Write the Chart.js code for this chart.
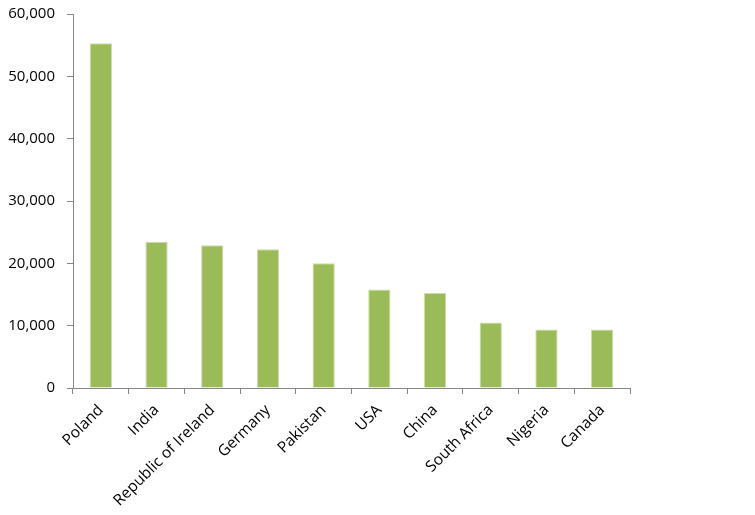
<!DOCTYPE html>
<html>
<head>
<meta charset="utf-8">
<script src="https://cdn.jsdelivr.net/npm/chart.js@4"></script>
<style>
  body { margin: 0; background: #fff; }
  #wrap { width: 755px; height: 515px; }
</style>
</head>
<body>
<div id="wrap"><canvas id="chart" width="755" height="515"></canvas></div>
<script>
// countries and values
const countries = ["Poland", "India", "Republic of Ireland", "Germany", "Pakistan", "USA", "China", "South Africa", "Nigeria", "Canada"];
const values = [55300, 23450, 22900, 22250, 20000, 15800, 15250, 10500, 9400, 9400];
const yTicks = [0, 10000, 20000, 30000, 40000, 50000, 60000];

const axisGrey = "#868686";
const yFont = { family: "'Open Sans', sans-serif", size: 15 };
const xFont = { family: "'Open Sans', sans-serif", size: 15.5 };

new Chart(document.getElementById("chart"), {
  type: "bar",
  data: {
    labels: countries,
    datasets: [{
      data: values,
      backgroundColor: "#9bbb59",
      borderColor: "#cddcb0",
      borderWidth: 1,
      barPercentage: 0.4,
      categoryPercentage: 1.0
    }]
  },
  options: {
    responsive: false,
    animation: false,
    layout: { padding: { left: 0, right: 125, top: 14, bottom: 0 } },
    plugins: { legend: { display: false }, tooltip: { enabled: false } },
    scales: {
      x: {
        afterFit: (axis) => { axis.height = 127; axis.paddingLeft = 0; axis.paddingRight = 0; },
        grid: { drawOnChartArea: false, drawTicks: true, tickLength: 6, color: axisGrey, offset: true },
        border: { color: axisGrey, width: 1 },
        ticks: { color: "#000", font: xFont, maxRotation: 45, minRotation: 45, padding: 7 }
      },
      y: {
        min: yTicks[0],
        max: yTicks[yTicks.length - 1],
        afterBuildTicks: (axis) => { axis.ticks = yTicks.map(v => ({ value: v })); },
        afterFit: (axis) => { axis.width = 73; axis.paddingTop = 0; axis.paddingBottom = 0; },
        grid: { drawOnChartArea: false, drawTicks: true, tickLength: 6, color: axisGrey },
        border: { color: axisGrey, width: 1 },
        ticks: {
          color: "#000",
          font: yFont,
          padding: 12,
          callback: (v) => v.toLocaleString("en-US")
        }
      }
    }
  }
});
</script>
</body>
</html>
